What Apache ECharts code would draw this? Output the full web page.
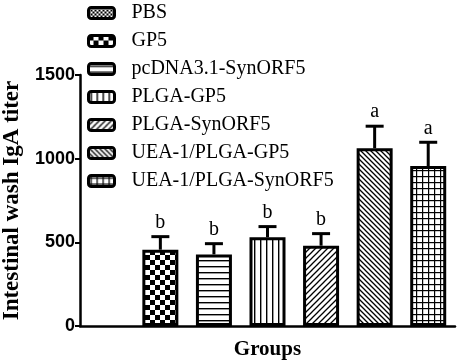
<!DOCTYPE html>
<html>
<head>
<meta charset="utf-8">
<script src="https://cdn.jsdelivr.net/npm/echarts@6/dist/echarts.min.js"></script>
<style>
  html, body { margin: 0; padding: 0; background: #fff; }
  #chart { width: 459px; height: 364px; }
</style>
</head>
<body>
<div id="chart"></div>
<script>
const groups = ['PBS', 'GP5', 'pcDNA3.1-SynORF5', 'PLGA-GP5', 'PLGA-SynORF5', 'UEA-1/PLGA-GP5', 'UEA-1/PLGA-SynORF5']
const means = [0, 456, 428, 530, 480, 1062, 956]
const errors = [0, 78, 64, 64, 72, 132, 142]
const letters = ['', 'b', 'b', 'b', 'b', 'a', 'a']
const patternKinds = ['fine', 'checker', 'hlines', 'vlines', 'slash', 'backslash', 'grid']

// small canvas tiles used as bar fills
function makePattern (kind) {
  const c = document.createElement('canvas')
  let s = 6
  if (kind === 'fine') s = 4
  if (kind === 'checker') s = 10
  if (kind === 'backslash') s = 5
  c.width = s
  c.height = s
  const ctx = c.getContext('2d')
  ctx.fillStyle = '#fff'
  ctx.fillRect(0, 0, s, s)
  ctx.fillStyle = '#000'
  ctx.strokeStyle = '#000'
  ctx.lineWidth = 1.3
  if (kind === 'fine') {
    ctx.fillRect(0, 0, 2, 2)
    ctx.fillRect(2, 2, 2, 2)
  } else if (kind === 'checker') {
    ctx.fillRect(0, 0, 5, 5)
    ctx.fillRect(5, 5, 5, 5)
  } else if (kind === 'hlines') {
    ctx.fillRect(0, 2, s, 1.4)
  } else if (kind === 'vlines') {
    ctx.fillRect(2, 0, 1.4, s)
  } else if (kind === 'grid') {
    ctx.fillRect(0, 2, s, 1.2)
    ctx.fillRect(2, 0, 1.2, s)
  } else if (kind === 'slash') {
    ctx.beginPath()
    ctx.moveTo(-1, s + 1); ctx.lineTo(s + 1, -1)
    ctx.moveTo(-1, 1); ctx.lineTo(1, -1)
    ctx.moveTo(s - 1, s + 1); ctx.lineTo(s + 1, s - 1)
    ctx.stroke()
  } else if (kind === 'backslash') {
    ctx.beginPath()
    ctx.moveTo(-1, -1); ctx.lineTo(s + 1, s + 1)
    ctx.moveTo(s - 1, -1); ctx.lineTo(s + 1, 1)
    ctx.moveTo(-1, s - 1); ctx.lineTo(1, s + 1)
    ctx.stroke()
  }
  return { image: c, repeat: 'repeat' }
}

const serif = '"Liberation Serif", "Times New Roman", serif'

const barSeries = groups.map((name, i) => ({
  name: name,
  type: 'bar',
  barWidth: 36,
  barGap: '-100%',
  data: means.map((v, j) => {
    if (j !== i) return '-'
    // zero-height bar: no outline on the axis
    return v === 0 ? { value: 0, itemStyle: { borderWidth: 0 } } : v
  }),
  itemStyle: {
    color: makePattern(patternKinds[i]),
    borderColor: '#000',
    borderWidth: 3
  },
  silent: true
}))

const errSeries = {
  type: 'custom',
  data: means.map((v, i) => [i, v, errors[i]]),
  renderItem: function (params, api) {
    const idx = api.value(0)
    if (!api.value(2)) return
    const top = api.coord([idx, api.value(1) + api.value(2)])
    const base = api.coord([idx, api.value(1)])
    const half = 9
    return {
      type: 'group',
      children: [
        { type: 'line', shape: { x1: base[0], y1: base[1], x2: top[0], y2: top[1] }, style: { stroke: '#000', lineWidth: 3 } },
        { type: 'line', shape: { x1: top[0] - half, y1: top[1], x2: top[0] + half, y2: top[1] }, style: { stroke: '#000', lineWidth: 3 } },
        { type: 'text', x: top[0], y: top[1] - 4, style: { text: letters[idx], fill: '#000', font: '20px ' + serif, textAlign: 'center', textVerticalAlign: 'bottom' } }
      ]
    }
  },
  z: 5
}

const chart = echarts.init(document.getElementById('chart'))
chart.setOption({
  animation: false,
  grid: { left: 80, right: 4, top: 75, bottom: 38, outerBoundsMode: 'none' },
  legend: {
    orient: 'vertical',
    left: 87,
    top: 3,
    padding: 0,
    itemWidth: 26,
    itemHeight: 11,
    itemGap: 8,
    icon: 'roundRect',
    itemStyle: { borderColor: '#000', borderWidth: 3 },
    textStyle: { fontFamily: serif, fontSize: 20, color: '#000', padding: [0, 0, 0, 12] },
    data: groups
  },
  xAxis: {
    type: 'category',
    data: groups,
    name: 'Groups',
    nameLocation: 'middle',
    nameGap: 13,
    nameTextStyle: { fontFamily: serif, fontSize: 21, fontWeight: 'bold', color: '#000' },
    axisLine: { lineStyle: { color: '#000', width: 2.5 } },
    axisTick: { alignWithLabel: true, length: 6, lineStyle: { color: '#000', width: 2 } },
    axisLabel: { show: false }
  },
  yAxis: {
    type: 'value',
    min: 0,
    max: 1500,
    interval: 500,
    name: 'Intestinal wash IgA titer',
    nameLocation: 'middle',
    nameGap: 54,
    nameTextStyle: { fontFamily: serif, fontSize: 23, fontWeight: 'bold', color: '#000' },
    axisLine: { show: true, lineStyle: { color: '#000', width: 2.5 } },
    axisTick: { show: true, length: 5, lineStyle: { color: '#000', width: 2 } },
    axisLabel: {
      fontFamily: '"Liberation Sans", Arial, sans-serif',
      fontSize: 18,
      fontWeight: 'bold',
      color: '#000',
      margin: 5,
      formatter: v => String(v)
    },
    splitLine: { show: false }
  },
  series: barSeries.concat([errSeries])
})
</script>
</body>
</html>
